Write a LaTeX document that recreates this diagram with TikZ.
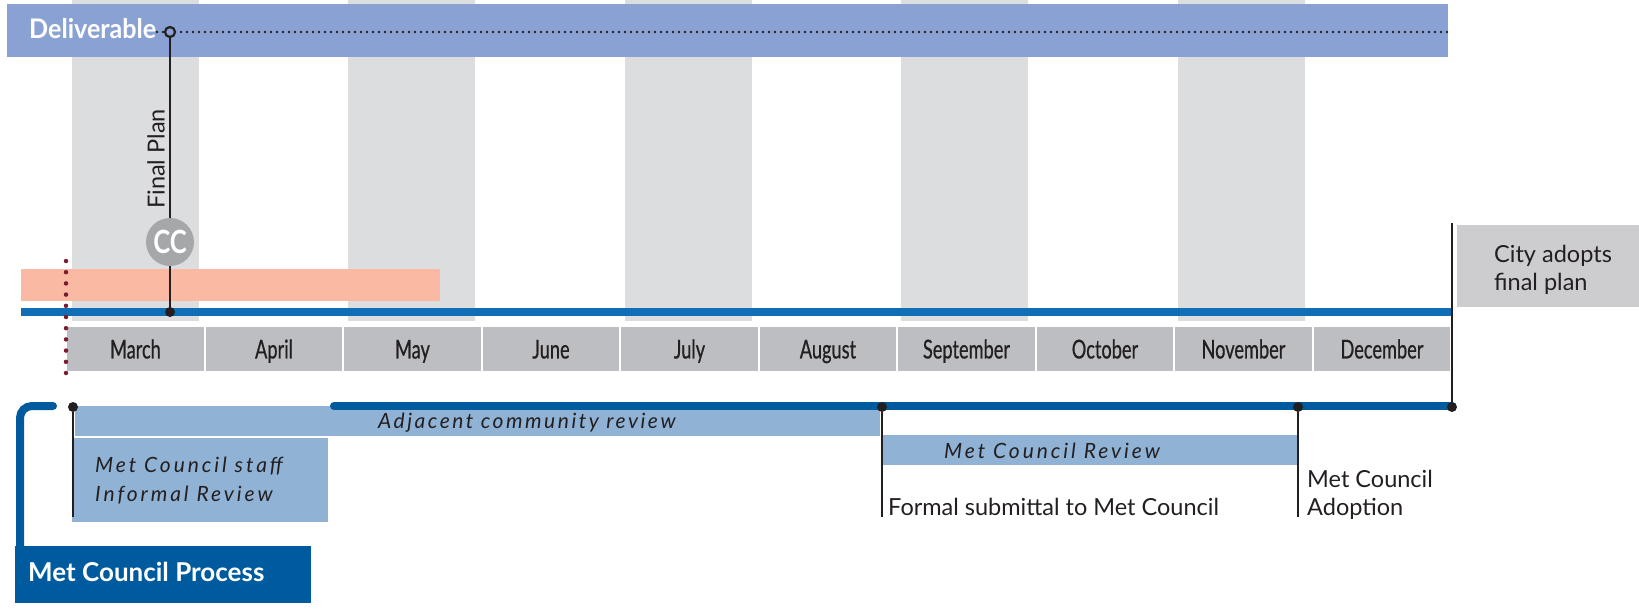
\documentclass[tikz,border=0pt]{standalone}
\usepackage{fontspec}
\setmainfont{Lato}
\newfontfamily\labfont{Lato}
\newfontfamily\condfont[FakeStretch=0.70, FakeBold=0.6]{Lato}
\newfontfamily\condbold[FakeStretch=0.80]{Lato Bold}
\newfontfamily\delivfont[FakeStretch=0.93]{Lato Bold}
\newfontfamily\spacedit[LetterSpace=14]{Lato Italic}
\newfontfamily\boldfont{Lato Bold}
\definecolor{delivblue}{HTML}{8AA2D3}
\definecolor{colgray}{HTML}{DCDDDF}
\definecolor{pinkband}{HTML}{F9B9A3}
\definecolor{topblue}{HTML}{106EB6}
\definecolor{monthgray}{HTML}{BDBEC1}
\definecolor{darkblue}{HTML}{005B9E}
\definecolor{lightblue}{HTML}{8FB2D5}
\definecolor{citygray}{HTML}{CDCDCF}
\definecolor{ccgray}{HTML}{A6A7A9}
\definecolor{dotred}{HTML}{7B1C2E}
\definecolor{ink}{HTML}{231F20}
\tikzset{
  monthbox/.style={fill=monthgray, draw=none, anchor=north west, inner sep=0pt,
    minimum width=136.5pt, minimum height=44pt, text=ink,
    font=\condfont\fontsize{26}{28}\selectfont, text height=18.5pt, text depth=0pt},
  lbox/.style={fill=lightblue, draw=none, anchor=north west, inner sep=0pt},
  lbtext/.style={anchor=base west, inner sep=0pt, text=ink, align=left,
    font=\spacedit\fontsize{21}{29}\selectfont},
  plain/.style={anchor=base west, inner sep=0pt, text=ink, align=left,
    font=\labfont\fontsize{23.5}{28}\selectfont},
  topline/.style={line width=8pt, draw=topblue},
  darkline/.style={line width=8pt, draw=darkblue, line cap=round},
  stem/.style={line width=2pt, draw=ink},
  blackdot/.style={circle, fill=ink, inner sep=0pt, minimum size=10pt},
}
\begin{document}
\begin{tikzpicture}[x=1pt,y=-1pt]
\useasboundingbox (0,0) rectangle (1639,613);
% gray columns
\foreach \i in {0,...,4} {
  \fill[colgray] (71.5+276.5*\i,0) rectangle (198.5+276.5*\i,321);
}
% deliverable band
\node[fill=delivblue, anchor=north west, inner sep=0pt, minimum width=1441pt, minimum height=53pt] (deliv) at (7,4) {};
\node[anchor=base west, inner sep=0pt, text=white, font=\delivfont\fontsize{27}{28}\selectfont] (delivtxt) at (29,38) {Deliverable};
% pink band
\node[fill=pinkband, anchor=north west, inner sep=0pt, minimum width=419pt, minimum height=32pt] (pink) at (21,269) {};
% top timeline
\coordinate (tl0) at (21,312);
\coordinate (tl1) at (1453,312);
\draw[topline] (tl0) -- (tl1);
% month boxes
\foreach \m [count=\k from 0] in {March,April,May,June,July,August,September,October,November,December} {
  \node[monthbox] (month\k) at (67+138.5*\k,327) {\m};
}
% red dotted line
\coordinate (rd0) at (66,261);
\coordinate (rd1) at (66,373);
\draw[dotred, line width=4.5pt, line cap=round, dash pattern=on 0pt off 11.2pt] (rd0) -- (rd1);
% city adopts box
\node[fill=citygray, anchor=north west, inner sep=0pt, minimum width=182pt, minimum height=82pt] (city) at (1457,225) {};
\node[plain] (citytxt) at (1494,290) {City adopts\\final plan};
% light blue boxes
\node[lbox, minimum width=805pt, minimum height=30pt] (adj) at (75,406) {};
\node[lbox, minimum width=256pt, minimum height=84pt] (staff) at (72,438) {};
\node[lbox, minimum width=415pt, minimum height=30pt] (mcrev) at (883,435) {};
% lower timeline
\coordinate (lt0) at (334,406);
\coordinate (lt1) at (1452,406);
\draw[darkline] (lt0) -- (lt1);
\coordinate (br0) at (20,570);
\coordinate (br1) at (53,406);
\draw[darkline, rounded corners=12pt] (br0) |- (br1);
% process box
\node[fill=darkblue, anchor=north west, inner sep=0pt, minimum width=296pt, minimum height=57pt] (proc) at (15,546) {};
\node[anchor=base west, inner sep=0pt, text=white, font=\boldfont\fontsize{26}{28}\selectfont] (proctxt) at (28,581) {Met Council Process};
% deliverable marker and final plan
\coordinate (fptop) at (170,32);
\coordinate (fpbot) at (170,312);
\coordinate (dotstart) at (157,32);
\coordinate (dotend) at (1448,32);
\draw[ink, line width=2.8pt, dash pattern=on 0pt off 6pt, line cap=round] (dotstart) -- (dotend);
\draw[stem] (fptop) -- (fpbot);
\node[circle, draw=ink, line width=2.2pt, fill=delivblue, minimum size=10pt, inner sep=0pt] (fpcirc) at (fptop) {};
\node[circle, fill=ccgray, minimum size=48pt, inner sep=0pt, text=white, font=\condbold\fontsize{32}{32}\selectfont] (cc) at (170,242) {CC};
\node[blackdot] (fpdot) at (fpbot) {};
\node[rotate=90, anchor=base west, inner sep=0pt, text=ink, font=\labfont\fontsize{23.5}{26}\selectfont] (fptxt) at (164.5,209) {Final Plan};
% milestone stems
\node[blackdot] (d0) at (73,407) {};
\coordinate (d0b) at (73,517);
\draw[stem] (d0) -- (d0b);
\node[blackdot] (d1) at (882,407) {};
\coordinate (d1b) at (882,517);
\draw[stem] (d1) -- (d1b);
\node[blackdot] (d2) at (1298,407) {};
\coordinate (d2b) at (1298,517);
\draw[stem] (d2) -- (d2b);
\node[blackdot] (d3) at (1452,407) {};
\coordinate (d3t) at (1452,223);
\draw[stem] (d3) -- (d3t);
% texts
\node[lbtext] (adjtxt) at (378,428) {\addfontfeature{LetterSpace=12}Adjacent community review};
\node[lbtext] (stafftxt) at (95,501) {Met Council staff\\Informal Review};
\node[lbtext] (mcrevtxt) at (944,458) {Met Council Review};
\node[plain] (formal) at (888,515) {Formal submittal to Met Council};
\node[plain] (adopt) at (1307,515) {Met Council\\Adoption};
\end{tikzpicture}
\end{document}
